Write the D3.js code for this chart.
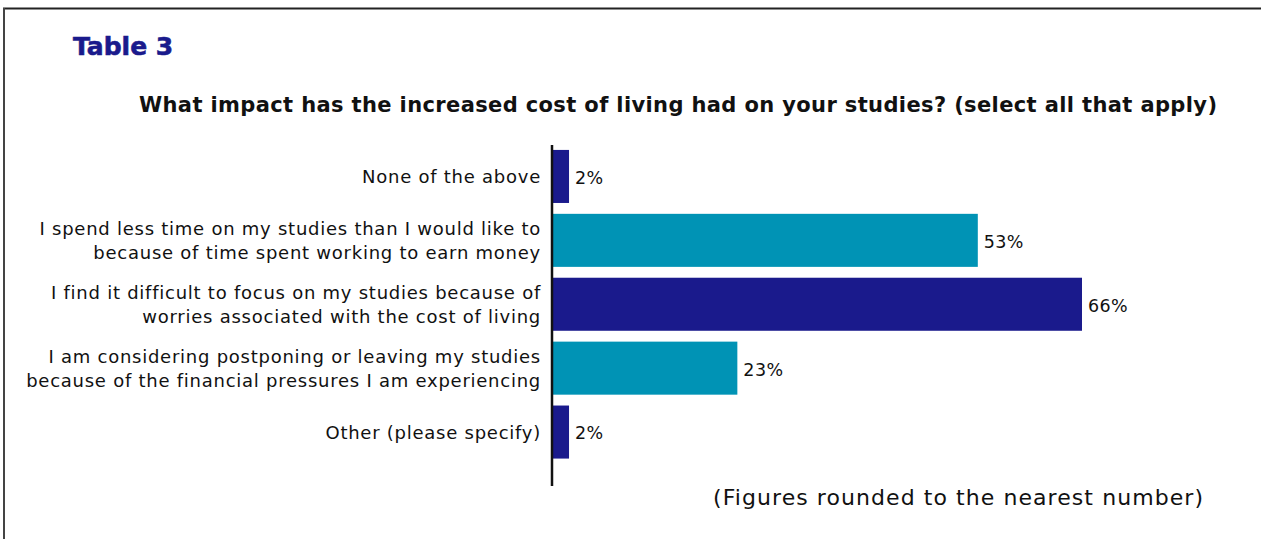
<!DOCTYPE html>
<html>
<head>
<meta charset="utf-8">
<script src="https://cdn.jsdelivr.net/npm/d3@7"></script>
<style>
  body { margin: 0; background: #fff; }
  svg text { font-family: "DejaVu Sans", "Open Sans", sans-serif; }
</style>
</head>
<body>
<div id="chart"></div>
<script>
// chart data
var categories = [
  ["None of the above"],
  ["I spend less time on my studies than I would like to", "because of time spent working to earn money"],
  ["I find it difficult to focus on my studies because of", "worries associated with the cost of living"],
  ["I am considering postponing or leaving my studies", "because of the financial pressures I am experiencing"],
  ["Other (please specify)"]
];
var values = [2, 53, 66, 23, 2];
var barColors = ["#1a1a8c", "#0093b5", "#1a1a8c", "#0093b5", "#1a1a8c"];

var width = 1261, height = 539;

var svg = d3.select("#chart")
  .append("svg")
    .attr("width", width)
    .attr("height", height);

// frame (top and left edges)
svg.append("line")
  .attr("x1", 3).attr("x2", width).attr("y1", 8.5).attr("y2", 8.5)
  .attr("stroke", "#222").attr("stroke-width", 2);
svg.append("line")
  .attr("x1", 4).attr("x2", 4).attr("y1", 8).attr("y2", height)
  .attr("stroke", "#444").attr("stroke-width", 2);

// headings
svg.append("text")
  .attr("x", 73).attr("y", 55)
  .attr("fill", "#1a1a8c")
  .attr("font-size", 25).attr("font-weight", 700)
  .attr("stroke", "#1a1a8c").attr("stroke-width", 0.6)
  .text("Table 3");

svg.append("text")
  .attr("x", 139).attr("y", 112)
  .attr("fill", "#111")
  .attr("font-size", 21).attr("font-weight", 700)
  .attr("textLength", 1078).attr("lengthAdjust", "spacing")
  .text("What impact has the increased cost of living had on your studies? (select all that apply)");

// scales
var x = d3.scaleLinear()
  .domain([0, 66])
  .range([553, 1082]);

var y = d3.scaleBand()
  .domain(d3.range(values.length))
  .range([144.5, 464])
  .paddingInner(0.17)
  .paddingOuter(0.085);

// bars
svg.selectAll(".bar")
  .data(values)
  .enter().append("rect")
    .attr("class", "bar")
    .attr("x", x(0))
    .attr("y", function(d, i) { return y(i); })
    .attr("width", function(d) { return x(d) - x(0); })
    .attr("height", y.bandwidth())
    .attr("fill", function(d, i) { return barColors[i]; });

// value labels
svg.selectAll(".val")
  .data(values)
  .enter().append("text")
    .attr("class", "val")
    .attr("x", function(d) { return x(d) + 6; })
    .attr("y", function(d, i) { return y(i) + y.bandwidth() / 2; })
    .attr("dy", "0.42em")
    .attr("font-size", 17.5)
    .attr("letter-spacing", 0.4)
    .attr("fill", "#111")
    .text(function(d) { return d + "%"; });

// category labels
var lab = svg.selectAll(".cat")
  .data(categories)
  .enter().append("text")
    .attr("class", "cat")
    .attr("text-anchor", "end")
    .attr("font-size", 18)
    .attr("letter-spacing", 0.75)
    .attr("fill", "#111")
    .attr("y", function(d, i) { return y(i) + y.bandwidth() / 2; });

lab.selectAll("tspan")
  .data(function(d) { return d; })
  .enter().append("tspan")
    .attr("x", 541)
    .attr("dy", function(d, j, nodes) {
      var n = nodes.length;
      return j === 0 ? (0.38 - (n - 1) * 0.667) + "em" : "1.333em";
    })
    .text(function(d) { return d; });

// axis line
svg.append("line")
  .attr("x1", 552).attr("x2", 552)
  .attr("y1", 145).attr("y2", 486)
  .attr("stroke", "#111").attr("stroke-width", 2.5);

// footnote
svg.append("text")
  .attr("x", 713).attr("y", 505)
  .attr("font-size", 22)
  .attr("textLength", 490).attr("lengthAdjust", "spacing")
  .attr("fill", "#111")
  .text("(Figures rounded to the nearest number)");
</script>
</body>
</html>
